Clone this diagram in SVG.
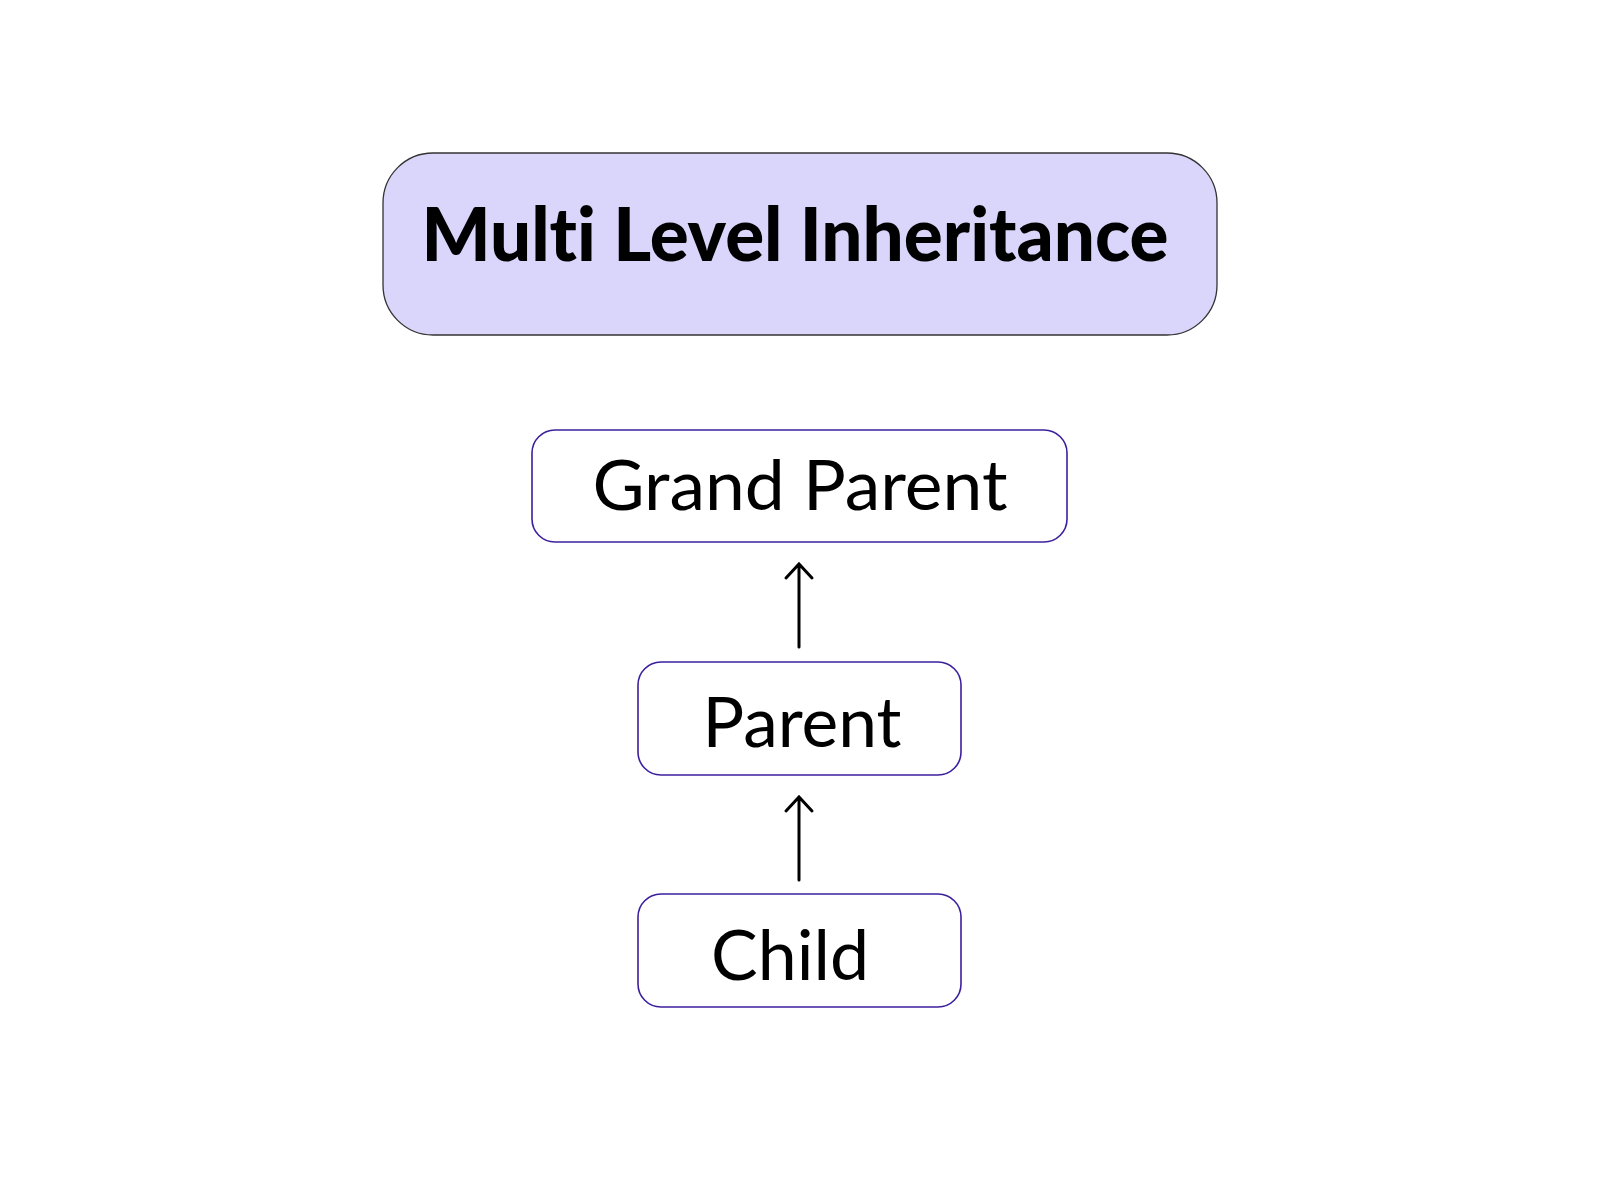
<svg xmlns="http://www.w3.org/2000/svg" width="1600" height="1200" viewBox="0 0 1600 1200">
<style>
.node{fill:#ffffff;stroke:#3d1f9e;stroke-width:1.6}
.lbl{font-family:Lato,"Noto Sans","Liberation Sans",sans-serif;font-size:70px;fill:#000;text-anchor:middle;font-variant-ligatures:none}
.title{font-family:Lato,"Noto Sans","Liberation Sans",sans-serif;font-size:74px;font-weight:900;fill:#000;text-anchor:middle;font-variant-ligatures:none}
.conn{fill:none;stroke:#000;stroke-width:3;stroke-linecap:round;stroke-linejoin:miter}
</style>
<rect width="1600" height="1200" fill="#ffffff"/>
<g id="title">
<rect x="383" y="153" width="834" height="182" rx="50" ry="50" fill="#d9d5fb" stroke="#333" stroke-width="1.3"/>
<text class="title" x="795" y="261" textLength="747" lengthAdjust="spacingAndGlyphs">Multi Level Inheritance</text>
</g>
<g id="grandparent">
<rect class="node" x="532" y="430" width="535" height="112" rx="23" ry="23"/>
<text class="lbl" x="800" y="510" textLength="415" lengthAdjust="spacingAndGlyphs">Grand Parent</text>
</g>
<g id="parent">
<rect class="node" x="638" y="662" width="323" height="113" rx="23" ry="23"/>
<text class="lbl" x="802" y="747" textLength="199" lengthAdjust="spacingAndGlyphs">Parent</text>
</g>
<g id="child">
<rect class="node" x="638" y="894" width="323" height="113" rx="23" ry="23"/>
<text class="lbl" x="790" y="980" textLength="158" lengthAdjust="spacingAndGlyphs">Child</text>
</g>
<g id="connectors">
<path class="conn" d="M799 647 V564 M786 578 L799 564 L812 578"/>
<path class="conn" d="M799 880 V797 M786 811 L799 797 L812 811"/>
</g>
</svg>
